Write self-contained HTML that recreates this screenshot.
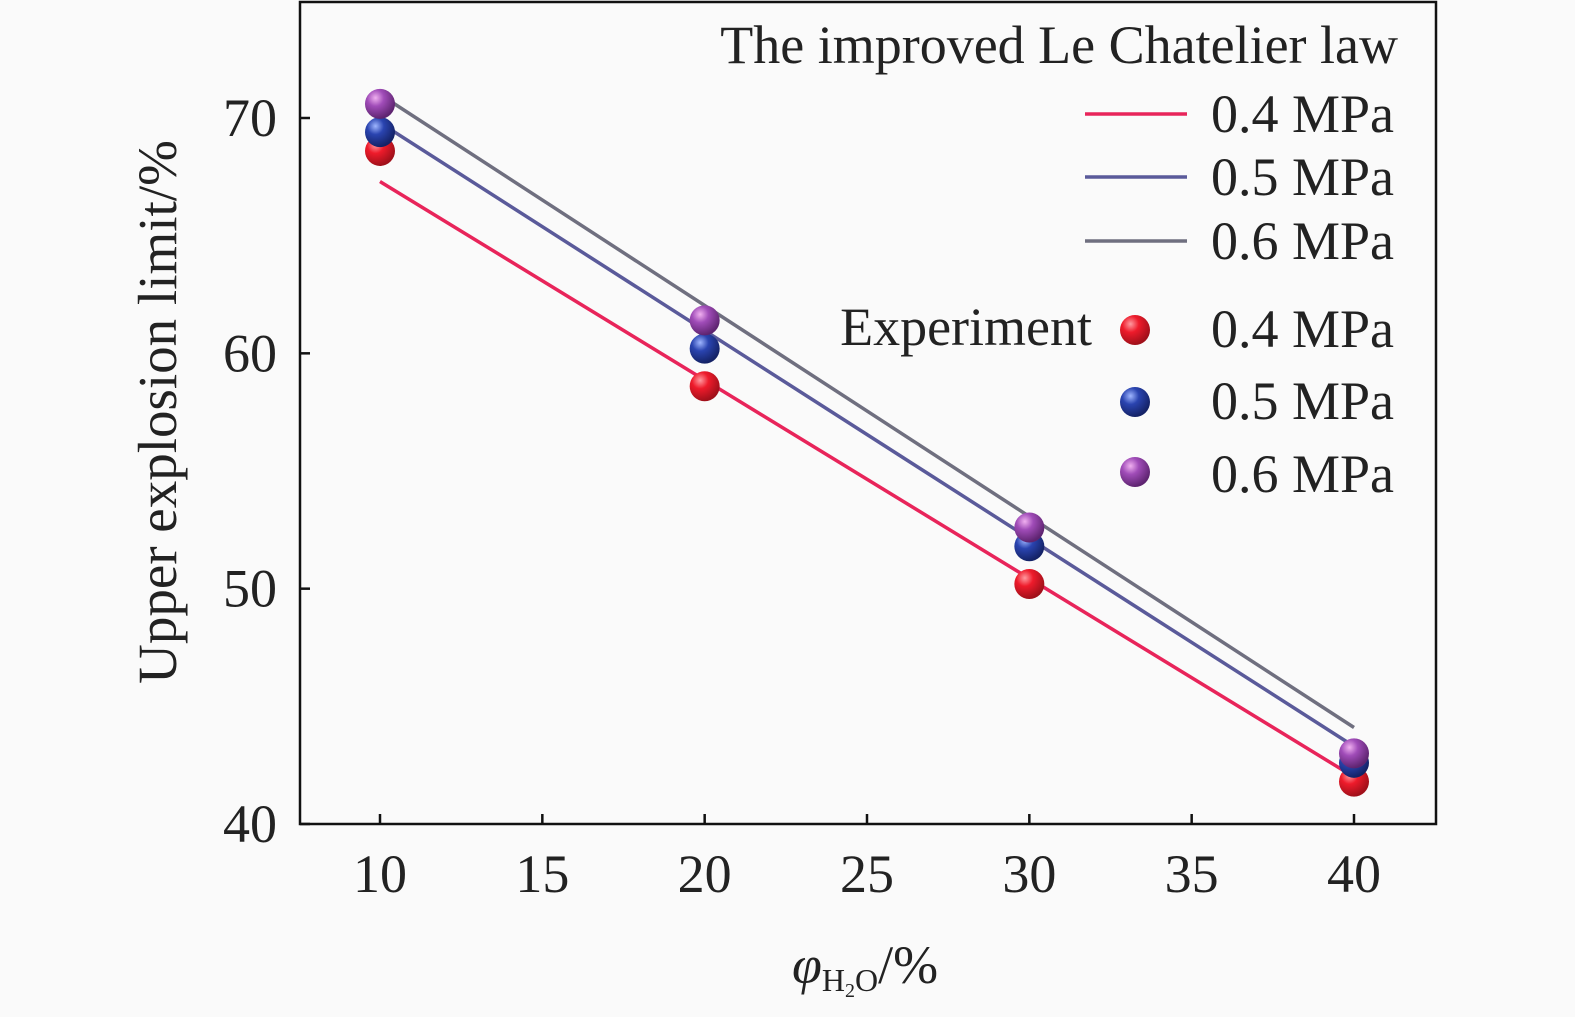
<!DOCTYPE html>
<html><head><meta charset="utf-8"><style>
html,body{margin:0;padding:0;background:#fafafa;}
svg{display:block;font-family:"Liberation Serif",serif;}
</style></head><body>
<svg id="chart" width="1575" height="1017" viewBox="0 0 1575 1017">
<defs>
<radialGradient id="gR" cx="35%" cy="30%" r="70%"><stop offset="0" stop-color="#ff9aa0"/><stop offset="0.4" stop-color="#ee1b2b"/><stop offset="1" stop-color="#a0101a"/></radialGradient>
<radialGradient id="gB" cx="35%" cy="30%" r="70%"><stop offset="0" stop-color="#9fb6ff"/><stop offset="0.4" stop-color="#2a44b0"/><stop offset="1" stop-color="#142266"/></radialGradient>
<radialGradient id="gP" cx="35%" cy="30%" r="70%"><stop offset="0" stop-color="#f0b0f0"/><stop offset="0.4" stop-color="#a04cb8"/><stop offset="1" stop-color="#5e2470"/></radialGradient>
</defs>
<g id="axes"></g>
<g id="series"></g>
<g id="legend" font-size="54" fill="#222">
<text x="1398" y="63" text-anchor="end">The improved Le Chatelier law</text>
<line x1="1085" y1="114" x2="1187" y2="114" stroke="#e8245a" stroke-width="3.5"/>
<text x="1394" y="132" text-anchor="end">0.4 MPa</text>
<line x1="1085" y1="177" x2="1187" y2="177" stroke="#5a5a9a" stroke-width="3.5"/>
<text x="1394" y="195" text-anchor="end">0.5 MPa</text>
<line x1="1085" y1="241" x2="1187" y2="241" stroke="#6f6f7f" stroke-width="3.5"/>
<text x="1394" y="259" text-anchor="end">0.6 MPa</text>
<text x="1092" y="345" text-anchor="end">Experiment</text>
<circle cx="1135" cy="330" r="15" fill="url(#gR)"/>
<text x="1394" y="347" text-anchor="end">0.4 MPa</text>
<circle cx="1135" cy="402" r="15" fill="url(#gB)"/>
<text x="1394" y="419" text-anchor="end">0.5 MPa</text>
<circle cx="1135" cy="472" r="15" fill="url(#gP)"/>
<text x="1394" y="492" text-anchor="end">0.6 MPa</text>
</g>
<text transform="translate(176,412) rotate(-90)" text-anchor="middle" font-size="55" fill="#222">Upper explosion limit/%</text>
<text x="792" y="983" font-size="54" fill="#222"><tspan font-style="italic">φ</tspan><tspan font-size="32" dy="8">H</tspan><tspan font-size="20" dy="6">2</tspan><tspan font-size="32" dy="-6">O</tspan><tspan dy="-8">/%</tspan></text>
<script>
const xTicks=[10,15,20,25,30,35,40];
const yTicks=[40,50,60,70];
const xCats=[10,20,30,40];
const lineStart=[67.3,69.8,71.0];
const lineEnd=[42.0,43.3,44.1];
const exp04=[68.6,58.6,50.2,41.8];
const exp05=[69.4,60.2,51.8,42.6];
const exp06=[70.6,61.4,52.6,43.0];
const lineColors=['#e8245a','#5a5a9a','#6f6f7f'];
const grads=['url(#gR)','url(#gB)','url(#gP)'];
const names=['0.4','0.5','0.6'];
const L=300,R=1436,T=2,B=824;
const sx=v=>380+(v-10)*(1354-380)/30;
const sy=v=>824-(v-40)*(824-118)/30;
const NS='http://www.w3.org/2000/svg';
function mk(t,a,p){const e=document.createElementNS(NS,t);for(const k in a)e.setAttribute(k,a[k]);p.appendChild(e);return e;}
const ax=document.getElementById('axes');
const fr=mk('rect',{x:L,y:T,width:R-L,height:B-T,fill:'none',stroke:'#111','stroke-width':2.5},ax);


xTicks.forEach(v=>{
 const t=mk('line',{x1:sx(v),x2:sx(v),y1:B,y2:B-10,stroke:'#111','stroke-width':2.5},ax);
 
 
 const l=mk('text',{x:sx(v),y:892,'text-anchor':'middle','font-size':54,fill:'#222'},ax);l.textContent=v;
 
 
});
yTicks.forEach(v=>{
 const t=mk('line',{x1:L,x2:L+10,y1:sy(v),y2:sy(v),stroke:'#111','stroke-width':2.5},ax);
 
 
 const l=mk('text',{x:277,y:sy(v)+18,'text-anchor':'end','font-size':54,fill:'#222'},ax);l.textContent=v;
 
 
});
const sg=document.getElementById('series');
for(let i=0;i<3;i++){
 const ln=mk('line',{x1:sx(10),y1:sy(lineStart[i]),x2:sx(40),y2:sy(lineEnd[i]),stroke:lineColors[i],'stroke-width':3.5},sg);
 
 
}
[exp04,exp05,exp06].forEach((arr,i)=>{
 arr.forEach((v,j)=>{
  const c=mk('circle',{cx:sx(xCats[j]),cy:sy(v),r:15,fill:grads[i]},sg);
  
  
 });
});
</script>
</svg>
</body></html>
